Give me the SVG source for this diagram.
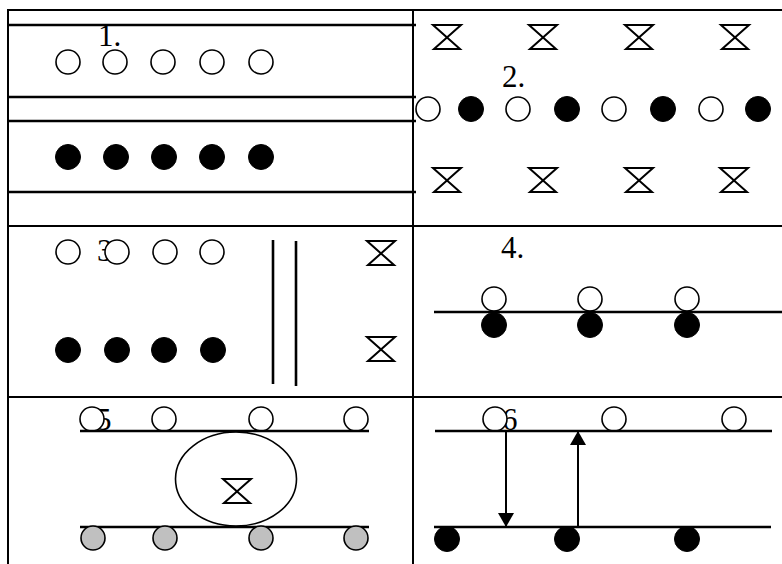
<svg xmlns="http://www.w3.org/2000/svg" width="782" height="564" viewBox="0 0 782 564">
<defs>
<style>
.grid{stroke:#000;stroke-width:2;fill:none}
.ln{stroke:#000;stroke-width:2.6;fill:none}
.o{fill:#fff;stroke:#000;stroke-width:1.6}
.f{fill:#000;stroke:#000;stroke-width:1}
.g{fill:#c0c0c0;stroke:#000;stroke-width:1.6}
.hg{fill:none;stroke:#000;stroke-width:2;stroke-linejoin:miter}
.lbl{font-family:"Liberation Serif","Times New Roman",serif;font-size:31px;fill:#000}
.arr{stroke:#000;stroke-width:2;fill:none}
</style>
<path id="hg" class="hg" d="M-14,0 H14 L-13,24 H13 Z"/>
<marker id="ah" viewBox="0 0 14 16" refX="14" refY="8" markerWidth="14" markerHeight="16" markerUnits="userSpaceOnUse" orient="auto">
<path d="M0,0 L14,8 L0,16 Z" fill="#000"/>
</marker>
</defs>
<rect width="782" height="564" fill="#fff"/>
<g id="grid">
<line class="grid" x1="8" y1="10" x2="782" y2="10"/>
<line class="grid" x1="8" y1="9" x2="8" y2="564"/>
<line class="grid" x1="413" y1="9" x2="413" y2="564"/>
<line class="grid" x1="8" y1="226" x2="782" y2="226"/>
<line class="grid" x1="8" y1="397" x2="782" y2="397"/>
</g>
<g id="panel1">
<text class="lbl" x="98" y="46">1.</text>
<line class="ln" x1="8" y1="25" x2="416" y2="25"/>
<line class="ln" x1="8" y1="97" x2="416" y2="97"/>
<line class="ln" x1="8" y1="121" x2="416" y2="121"/>
<line class="ln" x1="8" y1="192" x2="416" y2="192"/>
<circle class="o" cx="68" cy="62" r="12"/>
<circle class="o" cx="115" cy="62" r="12"/>
<circle class="o" cx="163" cy="62" r="12"/>
<circle class="o" cx="212" cy="62" r="12"/>
<circle class="o" cx="261" cy="62" r="12"/>
<circle class="f" cx="68" cy="157" r="12.5"/>
<circle class="f" cx="116" cy="157" r="12.5"/>
<circle class="f" cx="164" cy="157" r="12.5"/>
<circle class="f" cx="212" cy="157" r="12.5"/>
<circle class="f" cx="261" cy="157" r="12.5"/>
</g>
<g id="panel2">
<use href="#hg" x="447" y="25"/>
<use href="#hg" x="543" y="25"/>
<use href="#hg" x="639" y="25"/>
<use href="#hg" x="735" y="25"/>
<text class="lbl" x="502" y="87">2.</text>
<circle class="o" cx="428" cy="109" r="12"/>
<circle class="f" cx="471" cy="109" r="12.5"/>
<circle class="o" cx="518" cy="109" r="12"/>
<circle class="f" cx="567" cy="109" r="12.5"/>
<circle class="o" cx="614" cy="109" r="12"/>
<circle class="f" cx="663" cy="109" r="12.5"/>
<circle class="o" cx="711" cy="109" r="12"/>
<circle class="f" cx="758" cy="109" r="12.5"/>
<use href="#hg" x="447" y="168"/>
<use href="#hg" x="543" y="168"/>
<use href="#hg" x="639" y="168"/>
<use href="#hg" x="734" y="168"/>
</g>
<g id="panel3">
<text class="lbl" x="97" y="261">3.</text>
<circle class="o" cx="68" cy="252" r="12"/>
<circle class="o" cx="117" cy="252" r="12"/>
<circle class="o" cx="165" cy="252" r="12"/>
<circle class="o" cx="212" cy="252" r="12"/>
<circle class="f" cx="68" cy="350" r="12.5"/>
<circle class="f" cx="117" cy="350" r="12.5"/>
<circle class="f" cx="164" cy="350" r="12.5"/>
<circle class="f" cx="213" cy="350" r="12.5"/>
<line class="ln" x1="273" y1="240" x2="273" y2="384"/>
<line class="ln" x1="296" y1="241" x2="296" y2="386"/>
<use href="#hg" x="381" y="241"/>
<use href="#hg" x="381" y="337"/>
</g>
<g id="panel4">
<text class="lbl" x="501" y="258">4.</text>
<circle class="o" cx="494" cy="299" r="12"/>
<circle class="o" cx="590" cy="299" r="12"/>
<circle class="o" cx="687" cy="299" r="12"/>
<line class="ln" x1="434" y1="312" x2="782" y2="312"/>
<circle class="f" cx="494" cy="325" r="12.5"/>
<circle class="f" cx="590" cy="325" r="12.5"/>
<circle class="f" cx="687" cy="325" r="12.5"/>
</g>
<g id="panel5">
<text class="lbl" x="96" y="430">5</text>
<circle class="o" cx="92" cy="419" r="12"/>
<circle class="o" cx="164" cy="419" r="12"/>
<circle class="o" cx="261" cy="419" r="12"/>
<circle class="o" cx="356" cy="419" r="12"/>
<line class="ln" x1="80" y1="431" x2="369" y2="431"/>
<ellipse cx="236" cy="479" rx="60.5" ry="47" fill="none" stroke="#000" stroke-width="1.6"/>
<use href="#hg" x="237" y="479"/>
<line class="ln" x1="80" y1="527" x2="369" y2="527"/>
<circle class="g" cx="93" cy="538" r="12"/>
<circle class="g" cx="165" cy="538" r="12"/>
<circle class="g" cx="261" cy="538" r="12"/>
<circle class="g" cx="356" cy="538" r="12"/>
</g>
<g id="panel6">
<text class="lbl" x="502" y="430">6</text>
<circle class="o" cx="495" cy="419" r="12"/>
<circle class="o" cx="614" cy="419" r="12"/>
<circle class="o" cx="734" cy="419" r="12"/>
<line class="ln" x1="435" y1="431" x2="772" y2="431"/>
<line class="ln" x1="434" y1="527" x2="771" y2="527"/>
<circle class="f" cx="447" cy="539" r="12.5"/>
<circle class="f" cx="567" cy="539" r="12.5"/>
<circle class="f" cx="687" cy="539" r="12.5"/>
</g>
<g id="connectors">
<line class="arr" x1="506" y1="431" x2="506" y2="527" marker-end="url(#ah)"/>
<line class="arr" x1="578" y1="527" x2="578" y2="431" marker-end="url(#ah)"/>
</g>
</svg>
